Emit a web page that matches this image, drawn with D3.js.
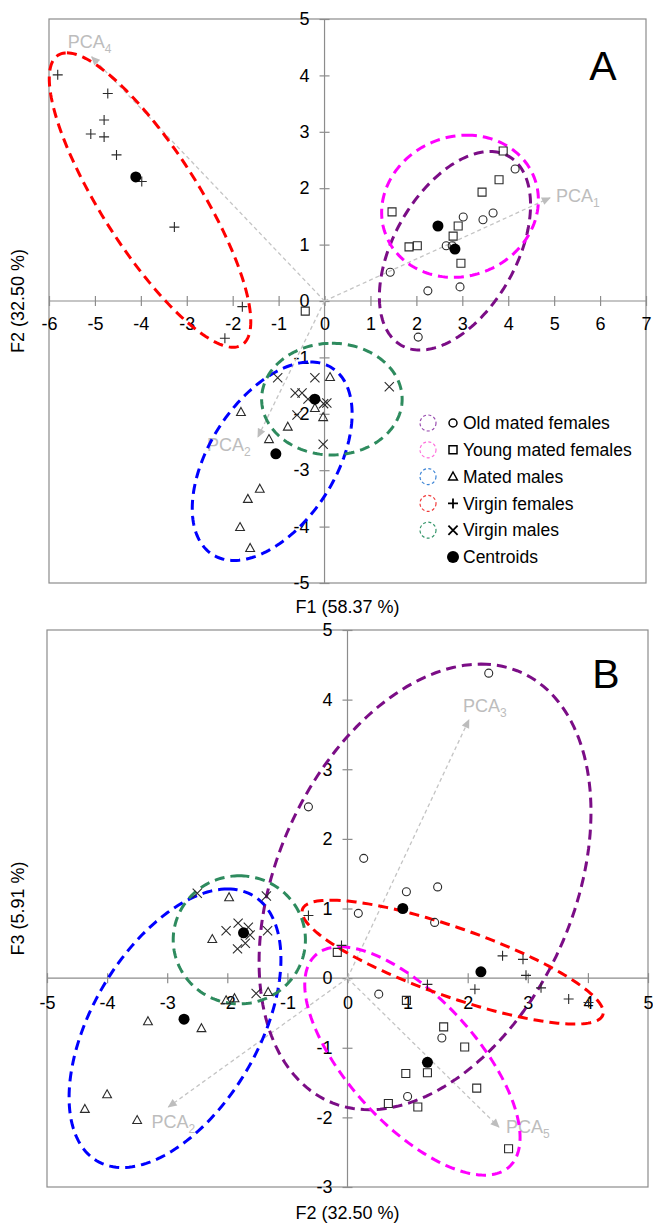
<!DOCTYPE html>
<html><head><meta charset="utf-8">
<script src="https://cdn.jsdelivr.net/npm/d3@7"></script>
<style>body{margin:0;background:#fff}svg{display:block;background:#fff}text{font-family:"Liberation Sans",Arial,sans-serif}</style>
</head><body><svg id="c" width="653" height="1226"></svg>
<script>
// ---------------- DATA ----------------
const groupNames = ["Old mated females","Young mated females","Mated males","Virgin females","Virgin males"];
const groupSymbols = ["circle","square","triangle","plus","cross"];

// Panel A: F1 (x) vs F2 (y)
const oldMatedA   = [[4.15,2.34],[3.67,1.56],[3.45,1.44],[3.02,1.49],[2.65,0.98],[2.78,0.98],[1.43,0.51],[2.25,0.18],[2.95,0.25],[2.04,-0.64]];
const youngMatedA = [[3.89,2.66],[3.80,2.15],[3.43,1.93],[1.47,1.58],[2.91,1.33],[2.80,1.15],[1.84,0.96],[2.02,0.98],[2.97,0.67],[-0.42,-0.18]];
const matedMalesA = [[0.12,-1.35],[-0.21,-1.90],[-0.03,-2.06],[-0.80,-2.23],[-1.21,-2.45],[-1.82,-1.97],[-1.41,-3.33],[-1.67,-3.51],[-1.84,-4.01],[-1.62,-4.38]];
const virginFemA  = [[-5.81,4.01],[-4.72,3.68],[-4.80,3.21],[-5.09,2.96],[-4.80,2.91],[-4.53,2.59],[-3.98,2.12],[-3.27,1.31],[-1.79,-0.10],[-2.17,-0.66]];
const virginMalesA= [[-1.02,-1.36],[-0.21,-1.36],[-0.64,-1.63],[-0.49,-1.63],[-0.36,-1.74],[0.05,-1.81],[-0.02,-1.82],[-0.60,-2.02],[-0.03,-2.54],[1.41,-1.52]];
const centroidsA  = [[2.84,0.92],[2.47,1.33],[-1.06,-2.71],[-4.11,2.20],[-0.21,-1.74]];
// Confidence ellipses A: [cx, cy, ux, uy, vx, vy] (conjugate half-diameters)
const ellipsesA = [[2.84,0.89,0.76,1.76,1.46,0],[2.95,1.68,0.15,1.26,1.70,0],[-1.14,-2.84,0.83,1.76,1.53,0],[-3.80,1.79,-1.81,2.61,1.24,0],[0.16,-1.74,0,0.99,1.53,0]];
const arrowsA = [[4.91,1.83,"1"],[-5.07,4.33,"4"],[-1.45,-2.41,"2"]];

// Panel B: F2 (x) vs F3 (y)
const oldMatedB   = [[2.35,4.38],[1.57,-0.86],[1.45,0.80],[1.50,1.31],[0.98,1.24],[1.00,-1.70],[0.52,-0.23],[0.18,0.93],[0.27,1.72],[-0.65,2.46]];
const youngMatedB = [[-0.17,0.37],[0.98,-0.32],[1.60,-0.70],[1.95,-0.99],[0.97,-1.37],[1.33,-1.36],[2.15,-1.58],[0.68,-1.80],[1.17,-1.85],[2.68,-2.45]];
const matedMalesB = [[-2.25,0.56],[-1.97,1.16],[-2.02,-0.32],[-1.88,-0.29],[-1.32,-0.20],[-3.32,-0.62],[-2.43,-0.72],[-4.00,-1.67],[-4.37,-1.88],[-3.50,-2.04]];
const virginFemB  = [[4.01,-0.35],[3.68,-0.30],[3.22,-0.14],[2.97,0.04],[2.92,0.27],[2.58,0.32],[2.12,-0.16],[1.33,-0.09],[-0.10,0.47],[-0.65,0.90]];
const virginMalesB= [[-2.02,0.68],[-1.82,0.79],[-1.65,0.73],[-1.62,0.62],[-1.70,0.50],[-1.83,0.42],[-1.33,0.68],[-1.52,-0.22],[-2.50,1.22],[-1.35,1.18]];
const centroidsB  = [[0.92,1.00],[1.33,-1.21],[-2.72,-0.59],[2.22,0.09],[-1.73,0.65]];
const ellipsesB = [[1.29,1.31,0.93,3.20,2.6,0],[1.08,-1.19,-1.2,1.64,1.33,0],[-2.87,-0.72,0.875,2.0,1.53,0],[1.75,0.23,-2.03,0.89,1.47,0],[-1.8,0.55,0,0.92,1.1,0]];
const arrowsB = [[2.02,3.71,"3"],[-2.98,-1.85,"2"],[2.52,-2.14,"5"]];

const ticksAx = d3.range(-6,8), ticksAy = d3.range(-5,6);
const ticksBx = d3.range(-5,6), ticksBy = d3.range(-3,6);
const titlesA = ["F1 (58.37 %)","F2 (32.50 %)"];
const titlesB = ["F2 (32.50 %)","F3 (5.91 %)"];

// ---------------- STYLE / LAYOUT ----------------
const ellipseColors = ["#7b0d86","#ff00ff","#0000ff","#ff0000","#2e8b5e"];
const legendColors  = ["#9a4fb0","#ff70dc","#3f86d6","#f03c3c","#35966a"];
const svg = d3.select("#c");
const FONT = '"Liberation Sans",Arial,sans-serif';

svg.append("defs").append("marker").attr("id","ah")
  .attr("viewBox","0 0 10 10").attr("refX",9).attr("refY",5)
  .attr("markerWidth",10).attr("markerHeight",9).attr("markerUnits","userSpaceOnUse").attr("orient","auto")
  .append("path").attr("d","M0,0.5L10,5L0,9.5Z").attr("fill","#bdbdbd");

function symbolPath(s){
  switch(s){
    case "square": return "M-4,-4H4V4H-4Z";
    case "triangle": return "M0,-4.6L4.4,3.4L-4.4,3.4Z";
    case "plus": return "M-5,0H5M0,-5V5";
    case "cross": return "M-4.6,-4.6L4.6,4.6M-4.6,4.6L4.6,-4.6";
    default: return "M4,0A4,4 0 1,1 -4,0A4,4 0 1,1 4,0Z";
  }
}

function drawPanel(cfg){
  const x = d3.scaleLinear().domain(cfg.xd).range([cfg.l,cfg.r]);
  const y = d3.scaleLinear().domain(cfg.yd).range([cfg.b,cfg.t]);
  const g = svg.append("g");
  const x0 = x(0), y0 = y(0);
  // frame
  g.append("rect").attr("x",cfg.l).attr("y",cfg.t).attr("width",cfg.r-cfg.l).attr("height",cfg.b-cfg.t)
    .attr("fill","none").attr("stroke","#8c8c8c").attr("stroke-width",1.2);
  // axis lines through origin
  g.append("line").attr("x1",cfg.l).attr("x2",cfg.r).attr("y1",y0).attr("y2",y0).attr("stroke","#8c8c8c").attr("stroke-width",1.2);
  g.append("line").attr("x1",x0).attr("x2",x0).attr("y1",cfg.t).attr("y2",cfg.b).attr("stroke","#8c8c8c").attr("stroke-width",1.2);
  // axes
  const ax = g.append("g").attr("transform",`translate(0,${y0-5})`)
    .call(d3.axisBottom(x).tickValues(cfg.tx).tickSize(10).tickPadding(cfg.xpad).tickFormat(d3.format("d")));
  const ay = g.append("g").attr("transform",`translate(${x0+5},0)`)
    .call(d3.axisLeft(y).tickValues(cfg.ty).tickSize(10).tickPadding(10).tickFormat(d3.format("d")));
  [ax,ay].forEach(a=>{
    a.select(".domain").remove();
    a.selectAll("line").attr("stroke","#8c8c8c").attr("stroke-width",1.2);
    a.selectAll("text").attr("font-size",18).attr("font-family",FONT).attr("fill","#000");
  });
  ax.selectAll("text").text(d=>d<0?"-"+Math.abs(d):d);
  ay.selectAll("text").text(d=>d<0?"-"+Math.abs(d):d);
  // arrows
  cfg.arrows.forEach((a,i)=>{
    g.append("line").attr("x1",x0).attr("y1",y0).attr("x2",x(a[0])).attr("y2",y(a[1]))
      .attr("stroke","#c4c4c4").attr("stroke-width",1.3).attr("stroke-dasharray","4,3").attr("marker-end","url(#ah)");
    const off = cfg.labOff[i];
    const t = g.append("text").attr("x",x(a[0])+off[0]).attr("y",y(a[1])+off[1])
      .attr("font-size",18).attr("fill","#bdbdbd").text("PCA");
    t.append("tspan").attr("font-size",12).attr("dy",5).text(a[2]);
  });
  // ellipses
  const line = d3.line().x(d=>x(d[0])).y(d=>y(d[1])).curve(d3.curveLinearClosed);
  cfg.ellipses.forEach((e,i)=>{
    const pts = d3.range(0,360,2).map(deg=>{const t=deg*Math.PI/180;
      return [e[0]+e[2]*Math.cos(t)+e[4]*Math.sin(t), e[1]+e[3]*Math.cos(t)+e[5]*Math.sin(t)];});
    g.append("path").attr("d",line(pts)).attr("fill","none").attr("stroke",ellipseColors[i])
      .attr("stroke-width",3).attr("stroke-dasharray","10,6");
  });
  // points
  cfg.series.forEach((s,i)=>{
    g.selectAll(null).data(s).enter().append("path")
      .attr("transform",d=>`translate(${x(d[0])},${y(d[1])})`)
      .attr("d",symbolPath(groupSymbols[i])).attr("fill","none").attr("stroke","#2a2a2a").attr("stroke-width",1.1);
  });
  g.selectAll(null).data(cfg.centroids).enter().append("circle")
    .attr("cx",d=>x(d[0])).attr("cy",d=>y(d[1])).attr("r",5.5).attr("fill","#000");
  // titles
  g.append("text").attr("x",(cfg.l+cfg.r)/2).attr("y",cfg.xtY).attr("text-anchor","middle").attr("font-size",18).text(cfg.titles[0]);
  g.append("text").attr("transform",`translate(${cfg.ytX},${(cfg.t+cfg.b)/2}) rotate(-90)`).attr("text-anchor","middle")
    .attr("dy","0.35em").attr("font-size",18).text(cfg.titles[1]);
  g.append("text").attr("x",cfg.letter[0]).attr("y",cfg.letter[1]).attr("font-size",41).attr("text-anchor","middle").text(cfg.letter[2]);
}

drawPanel({xd:[-6,7],yd:[-5,5],l:49,r:646,t:19,b:583,tx:ticksAx,ty:ticksAy,xpad:11,
  arrows:arrowsA,labOff:[[6,4],[-24,-9],[-51,14]],ellipses:ellipsesA,
  series:[oldMatedA,youngMatedA,matedMalesA,virginFemA,virginMalesA],centroids:centroidsA,
  titles:titlesA,xtY:613,ytX:18,letter:[603,80,"A"]});
drawPanel({xd:[-5,5],yd:[-3,5],l:47,r:648,t:630,b:1187,tx:ticksBx,ty:ticksBy,xpad:13,
  arrows:arrowsB,labOff:[[-6,-8],[-17,21],[7,6]],ellipses:ellipsesB,
  series:[oldMatedB,youngMatedB,matedMalesB,virginFemB,virginMalesB],centroids:centroidsB,
  titles:titlesB,xtY:1219,ytX:18,letter:[606,688,"B"]});

// legend
const leg = svg.append("g");
const rowY = d3.range(6).map(i=>423+i*26.8);
groupNames.forEach((n,i)=>{
  leg.append("circle").attr("cx",428).attr("cy",rowY[i]).attr("r",8).attr("fill","none")
    .attr("stroke",legendColors[i]).attr("stroke-width",1.2).attr("stroke-dasharray","3,2.4");
  leg.append("path").attr("transform",`translate(453,${rowY[i]})`).attr("d",symbolPath(groupSymbols[i]))
    .attr("fill","none").attr("stroke","#000").attr("stroke-width",groupSymbols[i]==="plus"||groupSymbols[i]==="cross"?1.8:1.5);
  leg.append("text").attr("x",463).attr("y",rowY[i]).attr("dy","0.35em").attr("font-size",17.5).text(n);
});
leg.append("circle").attr("cx",453).attr("cy",rowY[5]).attr("r",6).attr("fill","#000");
leg.append("text").attr("x",463).attr("y",rowY[5]).attr("dy","0.35em").attr("font-size",17.5).text("Centroids");
</script></body></html>
